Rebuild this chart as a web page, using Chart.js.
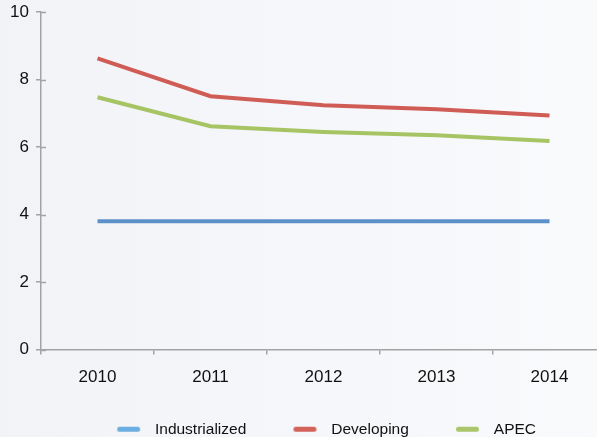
<!DOCTYPE html>
<html>
<head>
<meta charset="utf-8">
<script src="https://cdn.jsdelivr.net/npm/chart.js@4/dist/chart.umd.min.js"></script>
<style>
  html, body { margin: 0; padding: 0; overflow: hidden; }
  body { width: 597px; height: 437px; background: linear-gradient(to right, #f2f3f7, #f9fafc); }
  #wrap { position: relative; width: 597px; height: 437px; overflow: hidden; }
  /* canvas is a bit larger than the window: the plot runs off the right edge like the original */
  #lineChart { position: absolute; left: 0; top: -5px; }
</style>
</head>
<body>
<div id="wrap"><canvas id="lineChart" width="606" height="452"></canvas></div>
<script>
const years = ['2010', '2011', '2012', '2013', '2014'];
const industrialized = [3.8, 3.8, 3.8, 3.8, 3.8];
const developing = [8.63, 7.51, 7.24, 7.12, 6.94];
const apec = [7.48, 6.62, 6.45, 6.35, 6.18];
const yTicks = [0, 2, 4, 6, 8, 10];

const axisColor = '#a3a3a3';
const fontFamily = '"Liberation Sans", Arial, Helvetica, sans-serif';

// legend marker: blank lead-in, then a short rounded bar
const markLead = 51;
const markLen = 23;
const markGap = 11;
function legendMark(color) {
  const c = document.createElement('canvas');
  c.width = markLead + markLen + markGap;
  c.height = 7;
  const g = c.getContext('2d');
  g.strokeStyle = color;
  g.lineWidth = 5;
  g.lineCap = 'round';
  g.beginPath();
  g.moveTo(markLead + 2.5, 3.5);
  g.lineTo(markLead + markLen - 2.5, 3.5);
  g.stroke();
  return c;
}

// tick marks that cross the y axis into the plot
const innerTicks = {
  id: 'innerTicks',
  afterDraw(chart) {
    const ctx = chart.ctx;
    const y = chart.scales.y;
    const left = chart.chartArea.left;
    ctx.save();
    ctx.strokeStyle = axisColor;
    ctx.lineWidth = 1.5;
    y.ticks.forEach(t => {
      const py = Math.round(y.getPixelForValue(t.value)) + 0.5;
      ctx.beginPath();
      ctx.moveTo(left, py);
      ctx.lineTo(left + 5, py);
      ctx.stroke();
    });
    ctx.restore();
  }
};

const ctx = document.getElementById('lineChart');
new Chart(ctx, {
  type: 'line',
  data: {
    labels: years,
    datasets: [
      {
        label: 'Industrialized',
        data: industrialized,
        borderColor: '#5c90c9',
        legendColor: '#6aaee2',
        borderWidth: 4,
        pointRadius: 0,
        tension: 0
      },
      {
        label: 'Developing',
        data: developing,
        borderColor: '#cf5d55',
        legendColor: '#d2625a',
        borderWidth: 4,
        pointRadius: 0,
        tension: 0
      },
      {
        label: 'APEC',
        data: apec,
        borderColor: '#a6c463',
        legendColor: '#a9c66a',
        borderWidth: 4,
        pointRadius: 0,
        tension: 0
      }
    ]
  },
  options: {
    responsive: false,
    animation: false,
    devicePixelRatio: 1,
    layout: {
      padding: { top: 3, right: 0, left: 0, bottom: 0 }
    },
    plugins: {
      tooltip: { enabled: false },
      legend: {
        position: 'bottom',
        labels: {
          usePointStyle: true,
          pointStyleWidth: markLead + markLen + markGap - 7.75,
          padding: 0,
          color: '#111',
          font: { family: fontFamily, size: 15.5 },
          generateLabels(chart) {
            return chart.data.datasets.map((ds, i) => ({
              text: ds.label,
              datasetIndex: i,
              pointStyle: legendMark(ds.legendColor),
              fontColor: '#111',
              hidden: false
            }));
          }
        }
      }
    },
    scales: {
      x: {
        offset: true,
        grid: {
          offset: true,
          drawOnChartArea: false,
          drawTicks: true,
          tickLength: 5,
          color: axisColor,
          lineWidth: 1.5
        },
        border: { display: true, color: axisColor, width: 1.5 },
        ticks: {
          color: '#111',
          padding: 13,
          font: { family: fontFamily, size: 17 }
        },
        afterFit(scale) { scale.height = 72; }
      },
      y: {
        min: 0,
        max: 10,
        afterBuildTicks(scale) {
          scale.ticks = yTicks.map(v => ({ value: v }));
        },
        grid: {
          drawOnChartArea: false,
          drawTicks: true,
          tickLength: 5,
          color: axisColor,
          lineWidth: 1.5
        },
        border: { display: true, color: axisColor, width: 1.5 },
        ticks: {
          color: '#111',
          padding: 7,
          font: { family: fontFamily, size: 17 }
        },
        afterFit(scale) { scale.width = 41; }
      }
    }
  },
  plugins: [innerTicks]
});
</script>
</body>
</html>
